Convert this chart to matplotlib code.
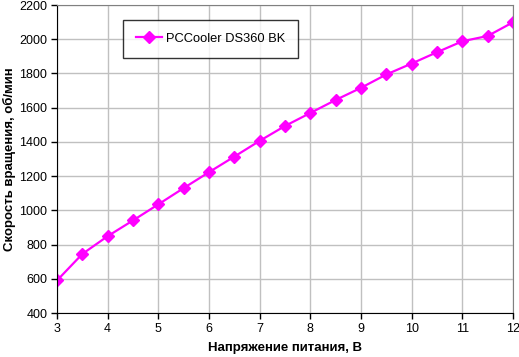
import numpy as np
import matplotlib.pyplot as plt

plt.rcParams['font.family'] = ['Liberation Sans', 'DejaVu Sans']

# напряжение и скорость вентилятора
volts = [3, 3.5, 4, 4.5, 5, 5.5, 6, 6.5, 7, 7.5, 8, 8.5, 9, 9.5, 10, 10.5, 11, 11.5, 12]
rpm = [590, 745, 849, 941, 1035, 1130, 1223, 1314, 1406, 1493, 1569, 1645,
       1716, 1794, 1858, 1924, 1988, 2019, 2099]
name = "PCCooler DS360 BK"

fig = plt.figure(figsize=(5.19, 3.57), dpi=100)
ax = fig.add_axes([57/519, 1-313/357, (513-57)/519, (313-5)/357])

ax.plot(volts, rpm, color='#FF00FF', lw=1.6, marker='D', ms=6,
        markeredgecolor='#FF00FF', label=name)

ax.set_xlim(3, 12)
ax.set_ylim(400, 2200)
ax.set_xticks(range(3, 13))
ax.set_yticks(range(400, 2201, 200))
ax.grid(True, color='#C0C0C0', lw=1)
ax.set_axisbelow(True)

for s in ['top', 'right']:
    ax.spines[s].set_color('#808080')
for s in ['left', 'bottom']:
    ax.spines[s].set_color('black')
ax.tick_params(direction='out', length=4, width=1, labelsize=9, pad=3)

ax.set_xlabel("Напряжение питания, В", fontsize=9.5, fontweight='bold')
ax.set_ylabel("Скорость вращения, об/мин", fontsize=9.5, fontweight='bold')
ax.xaxis.set_label_coords(0.5, -(342 - 313) / 308)
ax.yaxis.set_label_coords(-(57 - 16) / 456, 0.5)

leg = ax.legend(loc='upper left', bbox_to_anchor=((123-57)/456, 1-15/308),
                fontsize=9.3, frameon=True, fancybox=False, borderpad=1.0,
                handlelength=2.0, handletextpad=0.3, borderaxespad=0)
leg.get_frame().set_edgecolor('black')
leg.get_frame().set_linewidth(1)

fig.savefig("out.png", dpi=100)
